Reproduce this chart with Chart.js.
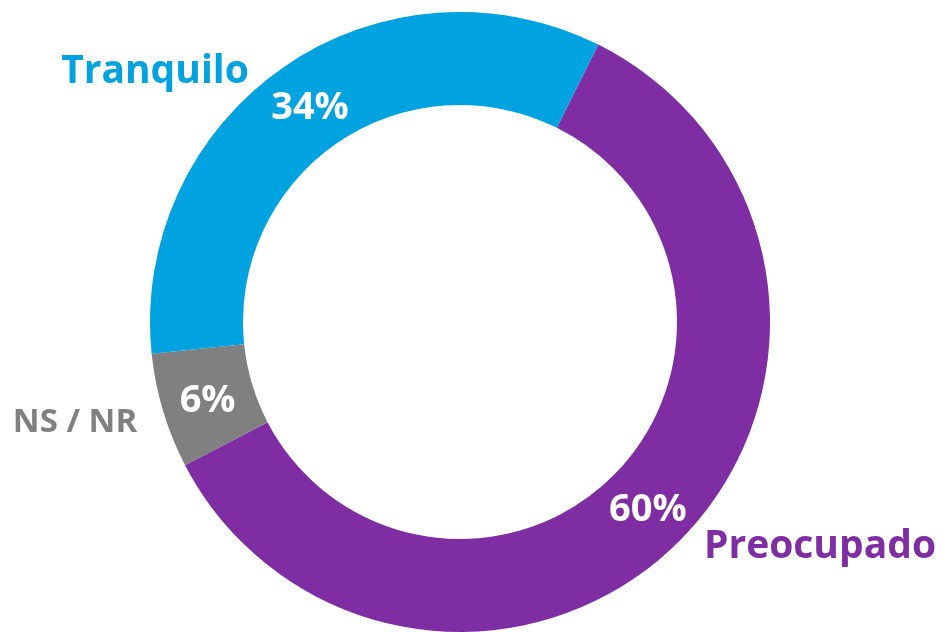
<!DOCTYPE html>
<html>
<head>
<meta charset="utf-8">
<script src="https://cdn.jsdelivr.net/npm/chart.js@4"></script>
<style>
  html, body { margin: 0; padding: 0; background: #fff; }
  #wrap { width: 947px; height: 632px; }
</style>
</head>
<body>
<div id="wrap"><canvas id="donut" width="947" height="632"></canvas></div>
<script>
const categories = ['Preocupado', 'NS / NR', 'Tranquilo'];
const values = [60, 6, 34];
const valueLabels = ['60%', '6%', '34%'];
const colors = ['#7f2da3', '#808080', '#00a2df'];

// where each category name sits, as offsets from the doughnut centre
const nameOffsets = [
  { dx: 360, dy: 223 },
  { dx: -385, dy: 98 },
  { dx: -305, dy: -252 }
];

const FONT = '"Open Sans", sans-serif';

const labelPlugin = {
  id: 'labels',
  afterDatasetsDraw(chart) {
    const ctx = chart.ctx;
    const arcs = chart.getDatasetMeta(0).data;
    ctx.save();
    ctx.textAlign = 'center';
    ctx.textBaseline = 'alphabetic';
    arcs.forEach((arc, i) => {
      const p = arc.tooltipPosition();
      ctx.fillStyle = '#ffffff';
      ctx.font = '700 38px ' + FONT;
      ctx.fillText(valueLabels[i], p.x, p.y + 14);

      ctx.fillStyle = colors[i];
      ctx.font = '700 ' + (i === 1 ? 33 : 39) + 'px ' + FONT;
      ctx.fillText(categories[i], arc.x + nameOffsets[i].dx, arc.y + nameOffsets[i].dy + (i === 1 ? 12 : 13));
    });
    ctx.restore();
  }
};

new Chart(document.getElementById('donut'), {
  type: 'doughnut',
  data: {
    labels: categories,
    datasets: [{
      data: values,
      backgroundColor: colors,
      borderWidth: 0
    }]
  },
  options: {
    responsive: false,
    animation: false,
    rotation: 26.5,
    cutout: '70%',
    layout: { padding: { top: 12, bottom: 0, left: 0, right: 27 } },
    plugins: {
      legend: { display: false },
      tooltip: { enabled: false }
    }
  },
  plugins: [labelPlugin]
});
</script>
</body>
</html>
